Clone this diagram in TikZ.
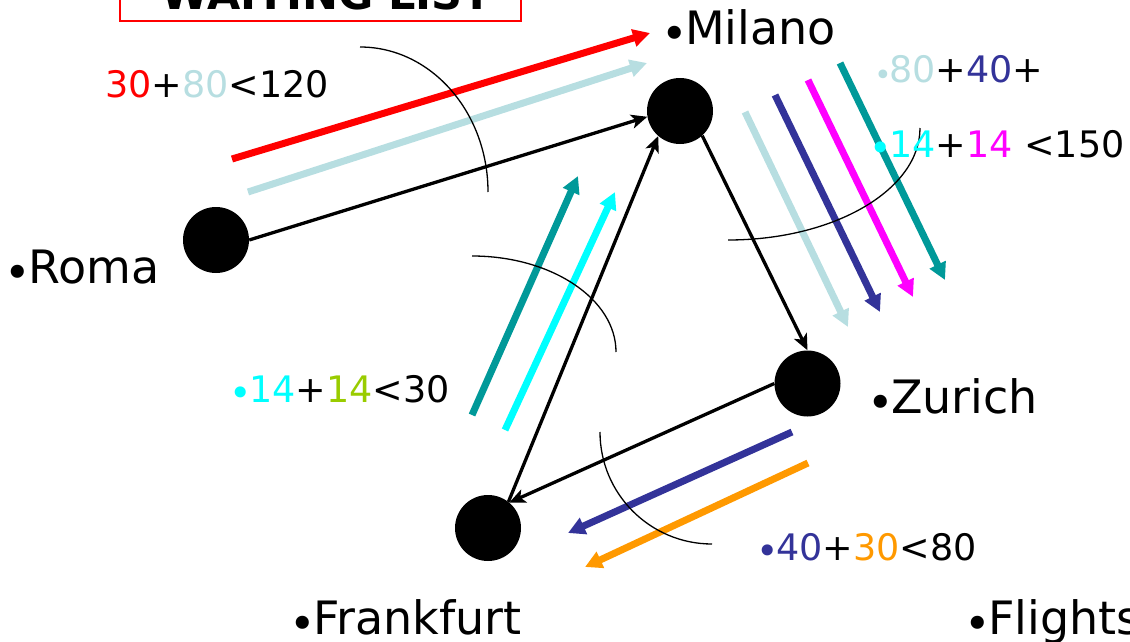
\documentclass[tikz,border=0pt]{standalone}
\usepackage{fontspec}
\setmainfont{DejaVu Sans}
\usetikzlibrary{arrows.meta}
\definecolor{flred}{HTML}{FF0000}
\definecolor{flpale}{HTML}{B7DEE1}
\definecolor{flteal}{HTML}{009999}
\definecolor{flcyan}{HTML}{00FFFF}
\definecolor{flnavy}{HTML}{333399}
\definecolor{flmagenta}{HTML}{FF00FF}
\definecolor{florange}{HTML}{FF9900}
\definecolor{fllime}{HTML}{99CC00}
% bullet hung to the left of a label: size, colour, drop below its usual height
\newcommand\bdot[3]{\llap{\smash{\raisebox{-#3}{\fontsize{#1}{#1}\selectfont\color{#2}•}}\kern-3pt}}
\begin{document}
\begin{tikzpicture}[x=1pt,y=-1pt,
  city/.style={circle,fill=black,minimum size=66pt,inner sep=0pt},
  link/.style={line width=3.3pt,-{Stealth[length=16pt,width=14pt,inset=4pt]}},
  demand/.style={line width=7pt,-{Triangle[length=17pt,width=17pt]}},
  sweep/.style={line width=1.3pt},
  cityname/.style={anchor=base west,inner sep=0pt,font=\fontsize{46}{46}\selectfont},
  load/.style={anchor=base west,inner sep=0pt,font=\fontsize{36.5}{36.5}\selectfont}]
\useasboundingbox (0,0) rectangle (1130,642);

% title box
\draw[flred,line width=1.8pt] (120,-10) rectangle (521,21);
\node[anchor=base,inner sep=0pt,font=\fontsize{43}{43}\selectfont\bfseries] (title) at (327,10) {WAITING LIST};

% airports
\node[city] (roma) at (216,240) {};
\node[city] (milano) at (680,111) {};
\node[city] (zurich) at (807.5,383.5) {};
\node[city] (frankfurt) at (488,528) {};

% flights
\draw[link] (roma.east) -- (milano.190);
\draw[link] (frankfurt.52) -- (milano.229);
\draw[link] (milano.312) -- (zurich.north);
\draw[link] (zurich.west) -- (frankfurt.50);

% passenger demands along each leg
\coordinate (d1s) at (232,159); \coordinate (d1e) at (650,33);
\coordinate (d2s) at (248,192); \coordinate (d2e) at (647,63);
\coordinate (d3s) at (472,415); \coordinate (d3e) at (578,176);
\coordinate (d4s) at (505,430); \coordinate (d4e) at (615,192);
\coordinate (d5s) at (745,112); \coordinate (d5e) at (848,327);
\coordinate (d6s) at (775,95);  \coordinate (d6e) at (880,312);
\coordinate (d7s) at (808,80);  \coordinate (d7e) at (913,297);
\coordinate (d8s) at (840,63);  \coordinate (d8e) at (945,280);
\coordinate (d9s) at (792,432); \coordinate (d9e) at (568,533);
\coordinate (d10s) at (808,463); \coordinate (d10e) at (585,567);
\draw[demand,flred] (d1s) -- (d1e);
\draw[demand,flpale] (d2s) -- (d2e);
\draw[demand,flteal] (d3s) -- (d3e);
\draw[demand,flcyan] (d4s) -- (d4e);
\draw[demand,flpale] (d5s) -- (d5e);
\draw[demand,flnavy] (d6s) -- (d6e);
\draw[demand,flmagenta] (d7s) -- (d7e);
\draw[demand,flteal] (d8s) -- (d8e);
\draw[demand,flnavy] (d9s) -- (d9e);
\draw[demand,florange] (d10s) -- (d10e);

% capacity cuts
\draw[sweep] (360,47) arc[start angle=90,end angle=0,x radius=128pt,y radius=145pt];
\draw[sweep] (472,256) arc[start angle=90,end angle=0,x radius=144pt,y radius=96pt];
\draw[sweep] (728,240) arc[start angle=270,end angle=360,x radius=192pt,y radius=112pt];
\draw[sweep] (600,432) arc[start angle=180,end angle=270,x radius=112pt,y radius=112pt];

% loads against capacities
\node[load] (lblRM) at (105,98) {\textcolor{flred}{30}+\textcolor{flpale}{80}<120};
\node[load] (lblMZa) at (889,82) {\bdot{30}{flpale}{3pt}\textcolor{flpale}{80}+\textcolor{flnavy}{40}+};
\node[load] (lblMZb) at (889,157) {\bdot{38}{flcyan}{4pt}\textcolor{flcyan}{14}+\textcolor{flmagenta}{14} <150};
\node[load] (lblFM) at (249,402) {\bdot{38}{flcyan}{4pt}\textcolor{flcyan}{14}+\textcolor{fllime}{14}<30};
\node[load] (lblZF) at (776,560) {\bdot{38}{flnavy}{4pt}\textcolor{flnavy}{40}+\textcolor{florange}{30}<80};

% city names
\node[cityname] (nmilano) at (685,45) {\bdot{45}{black}{5pt}Milano};
\node[cityname] (nroma) at (28,283) {\bdot{45}{black}{5pt}Roma};
\node[cityname] (nzurich) at (891,413) {\bdot{45}{black}{5pt}Zurich};
\node[cityname] (nfrankfurt) at (313,634) {\bdot{45}{black}{5pt}Frankfurt};
\node[cityname] (nflights) at (988,634) {\bdot{45}{black}{5pt}Flights};
\end{tikzpicture}
\end{document}
